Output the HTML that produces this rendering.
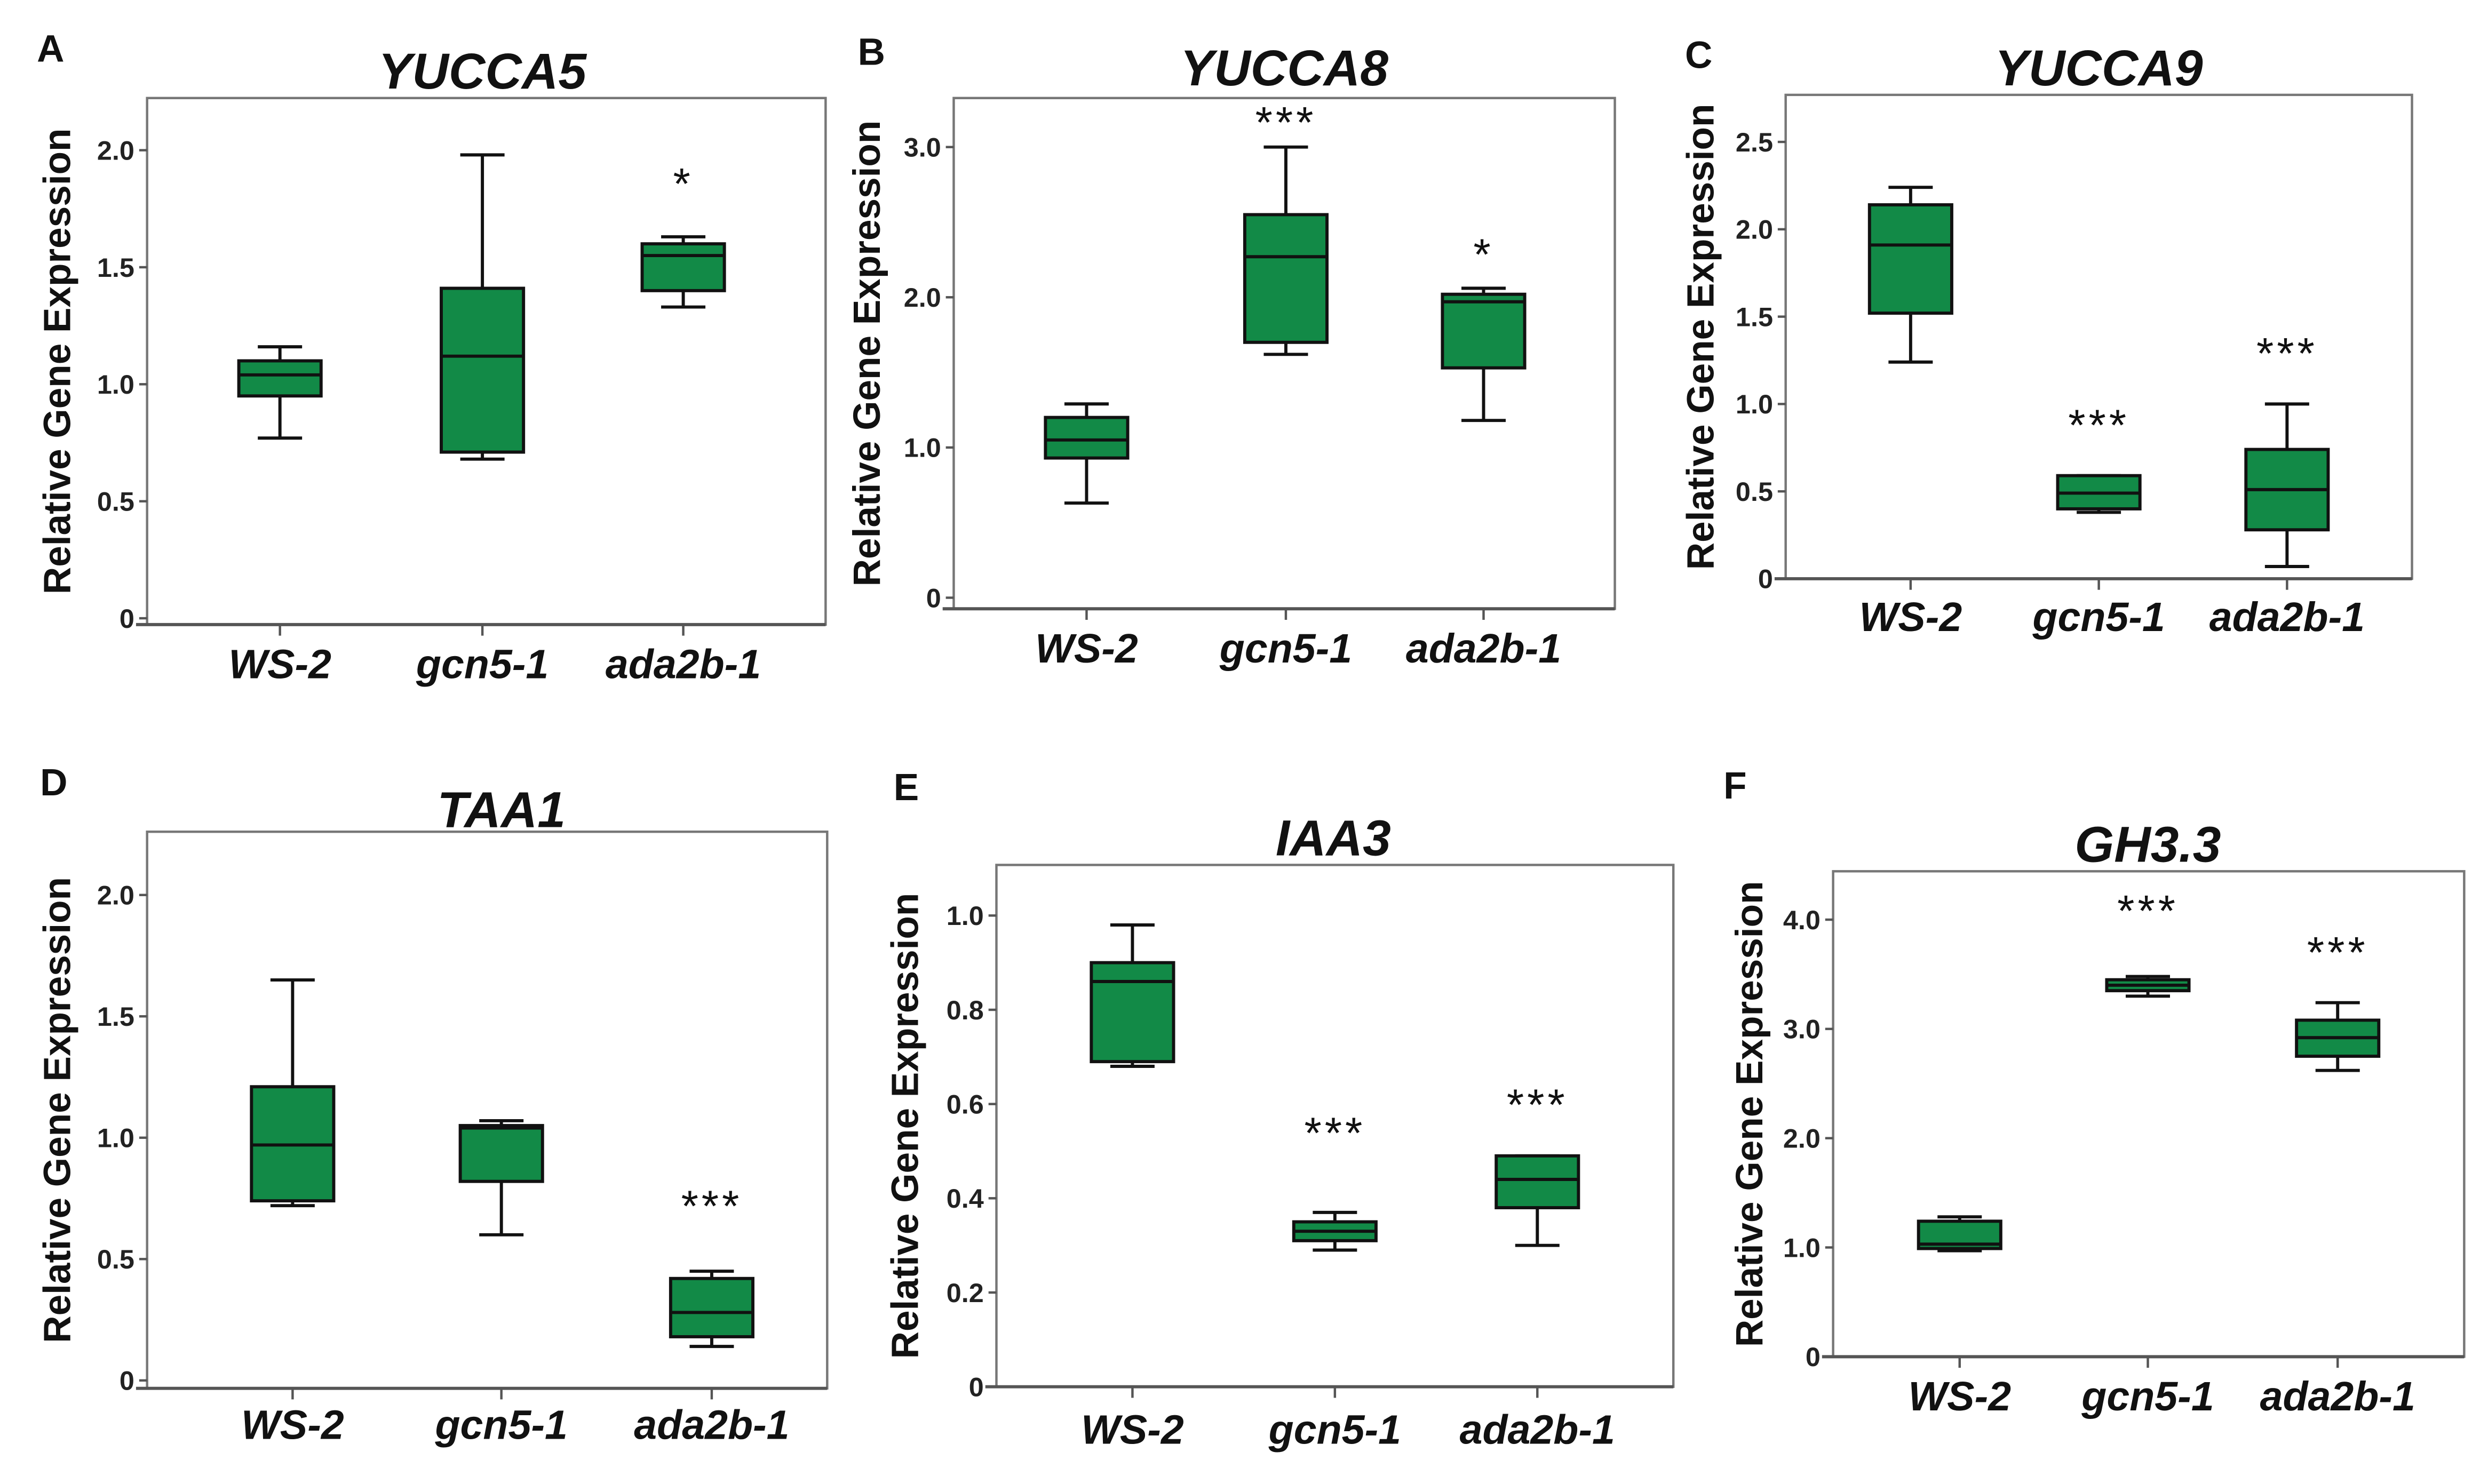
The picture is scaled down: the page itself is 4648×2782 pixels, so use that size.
<!DOCTYPE html>
<html><head><meta charset="utf-8"><style>
html,body{margin:0;padding:0;background:#fff;}
svg{display:block;}
text{font-family:"Liberation Sans",sans-serif;}
</style></head><body>
<svg id="fig" width="4648" height="2782" viewBox="0 0 1568 938.5" preserveAspectRatio="none" xmlns="http://www.w3.org/2000/svg"></svg>
<script>
const categories = ["WS-2", "gcn5-1", "ada2b-1"];
const titles = ["YUCCA5", "YUCCA8", "YUCCA9", "TAA1", "IAA3", "GH3.3"];
const letters = ["A", "B", "C", "D", "E", "F"];
// [whiskerLow, q1, median, q3, whiskerHigh] per category
const dataA = [[0.77,0.95,1.04,1.10,1.16],[0.68,0.71,1.12,1.41,1.98],[1.33,1.40,1.55,1.60,1.63]];
const dataB = [[0.63,0.93,1.05,1.20,1.29],[1.62,1.70,2.27,2.55,3.00],[1.18,1.53,1.97,2.02,2.06]];
const dataC = [[1.24,1.52,1.91,2.14,2.24],[0.38,0.40,0.49,0.59,0.59],[0.07,0.28,0.51,0.74,1.00]];
const dataD = [[0.72,0.74,0.97,1.21,1.65],[0.60,0.82,1.04,1.05,1.07],[0.14,0.18,0.28,0.42,0.45]];
const dataE = [[0.68,0.69,0.86,0.90,0.98],[0.29,0.31,0.33,0.35,0.37],[0.30,0.38,0.44,0.49,0.49]];
const dataF = [[0.97,0.99,1.03,1.24,1.28],[3.30,3.35,3.40,3.45,3.48],[2.62,2.75,2.92,3.08,3.24]];
// significance marks and their vertical position (data units)
const starsA = ["", "", "*"];       const starPosA = [0, 0, 1.88];
const starsB = ["", "***", "*"];    const starPosB = [0, 3.2, 2.32];
const starsC = ["", "***", "***"];  const starPosC = [0, 0.91, 1.32];
const starsD = ["", "", "***"];     const starPosD = [0, 0, 0.74];
const starsE = ["", "***", "***"];  const starPosE = [0, 0.55, 0.61];
const starsF = ["", "***", "***"];  const starPosF = [0, 4.13, 3.75];
const ticksA = [0,0.5,1.0,1.5,2.0]; const tickLabelsA = ["0","0.5","1.0","1.5","2.0"];
const ticksB = [0,1,2,3];           const tickLabelsB = ["0","1.0","2.0","3.0"];
const ticksC = [0,0.5,1,1.5,2,2.5]; const tickLabelsC = ["0","0.5","1.0","1.5","2.0","2.5"];
const ticksD = [0,0.5,1,1.5,2];     const tickLabelsD = ["0","0.5","1.0","1.5","2.0"];
const ticksE = [0,0.2,0.4,0.6,0.8,1.0]; const tickLabelsE = ["0","0.2","0.4","0.6","0.8","1.0"];
const ticksF = [0,1,2,3,4];         const tickLabelsF = ["0","1.0","2.0","3.0","4.0"];

const NS = "http://www.w3.org/2000/svg";
const svg = document.getElementById("fig");
function mk(tag, attrs, parent, txt){
  const e = document.createElementNS(NS, tag);
  for (const k in attrs) e.setAttribute(k, attrs[k]);
  if (txt !== undefined) e.textContent = txt;
  (parent || svg).appendChild(e);
  return e;
}
const layouts = [
 {x0:93,x1:522,y0:62,y1:395,zero:391,ppu:148,cx:[177,305,432],title:[305,45],letter:[32,30],ylab:38,catY:420,data:dataA,stars:starsA,sp:starPosA,ticks:ticksA,tl:tickLabelsA},
 {x0:603,x1:1021,y0:62,y1:385,zero:378,ppu:95,cx:[687,813,938],title:[812,43],letter:[551,32],ylab:550,catY:410,data:dataB,stars:starsB,sp:starPosB,ticks:ticksB,tl:tickLabelsB},
 {x0:1129,x1:1525,y0:60,y1:366,zero:366,ppu:110.5,cx:[1208,1327,1446],title:[1327,43],letter:[1074,34],ylab:1077,catY:390,data:dataC,stars:starsC,sp:starPosC,ticks:ticksC,tl:tickLabelsC},
 {x0:93,x1:523,y0:526,y1:878,zero:873,ppu:153.5,cx:[185,317,450],title:[317,512],letter:[34,494],ylab:38,catY:901,data:dataD,stars:starsD,sp:starPosD,ticks:ticksD,tl:tickLabelsD},
 {x0:630,x1:1058,y0:547,y1:877,zero:877,ppu:298,cx:[716,844,972],title:[843,530],letter:[573,497],ylab:574,catY:904,data:dataE,stars:starsE,sp:starPosE,ticks:ticksE,tl:tickLabelsE},
 {x0:1159,x1:1558,y0:551,y1:858,zero:858,ppu:69.1,cx:[1239,1358,1478],title:[1358,534],letter:[1097,496],ylab:1108,catY:883,data:dataF,stars:starsF,sp:starPosF,ticks:ticksF,tl:tickLabelsF}
];
layouts.forEach((L, i) => {
  const g = mk("g", {});
  
  
  const y = v => L.zero - v * L.ppu;
  const lt = mk("text", {x:L.letter[0], y:L.letter[1]+9, "font-size":24, "font-weight":"bold", "text-anchor":"middle", fill:"#111"}, g, letters[i]);
  
  
  const tt = mk("text", {x:L.title[0], y:L.title[1]+11, "font-size":32, "font-weight":"bold", "font-style":"italic", "text-anchor":"middle", fill:"#111"}, g, titles[i]);
  
  
  const fr = mk("rect", {x:L.x0, y:L.y0, width:L.x1-L.x0, height:L.y1-L.y0, fill:"none", stroke:"#777", "stroke-width":1.5}, g);
  
  
  mk("line", {x1:L.x0-7, x2:L.x1, y1:L.y1, y2:L.y1, stroke:"#555", "stroke-width":2}, g);
  const cy = (L.y0 + L.y1) / 2;
  const yl = mk("text", {x:L.ylab, y:cy, "font-size":24, "font-weight":"bold", "text-anchor":"middle", fill:"#111", transform:`rotate(-90 ${L.ylab} ${cy})`, "dominant-baseline":"middle"}, g, "Relative Gene Expression");
  
  
  L.ticks.forEach((t, k) => {
    mk("line", {x1:L.x0-5, x2:L.x0, y1:y(t), y2:y(t), stroke:"#555", "stroke-width":1.5}, g);
    const tl = mk("text", {x:L.x0-8, y:y(t)+6, "font-size":17, "font-weight":"bold", "text-anchor":"end", fill:"#222"}, g, L.tl[k]);
    
    
  });
  const bw = 52, cw = 28;
  categories.forEach((c, k) => {
    const x = L.cx[k], d = L.data[k];
    mk("line", {x1:x, x2:x, y1:L.y1, y2:L.y1+7, stroke:"#555", "stroke-width":1.5}, g);
    const cl = mk("text", {x:x, y:L.catY+9, "font-size":26, "font-weight":"bold", "font-style":"italic", "text-anchor":"middle", fill:"#111"}, g, c);
    
    
    const bg = mk("g", {stroke:"#111", "stroke-width":2}, g);
    
    
    mk("line", {x1:x, x2:x, y1:y(d[0]), y2:y(d[1])}, bg);
    mk("line", {x1:x, x2:x, y1:y(d[3]), y2:y(d[4])}, bg);
    mk("line", {x1:x-cw/2, x2:x+cw/2, y1:y(d[0]), y2:y(d[0])}, bg);
    mk("line", {x1:x-cw/2, x2:x+cw/2, y1:y(d[4]), y2:y(d[4])}, bg);
    mk("rect", {x:x-bw/2, y:y(d[3]), width:bw, height:Math.max(1, y(d[1])-y(d[3])), fill:"#128a47"}, bg);
    mk("line", {x1:x-bw/2, x2:x+bw/2, y1:y(d[2]), y2:y(d[2])}, bg);
    if (L.stars[k]) {
      const st = mk("text", {x:x, y:y(L.sp[k])+13, "font-size":28, "text-anchor":"middle", fill:"#111", "letter-spacing":"2"}, g, L.stars[k]);
      
      
    }
  });
});
</script>
</body></html>
